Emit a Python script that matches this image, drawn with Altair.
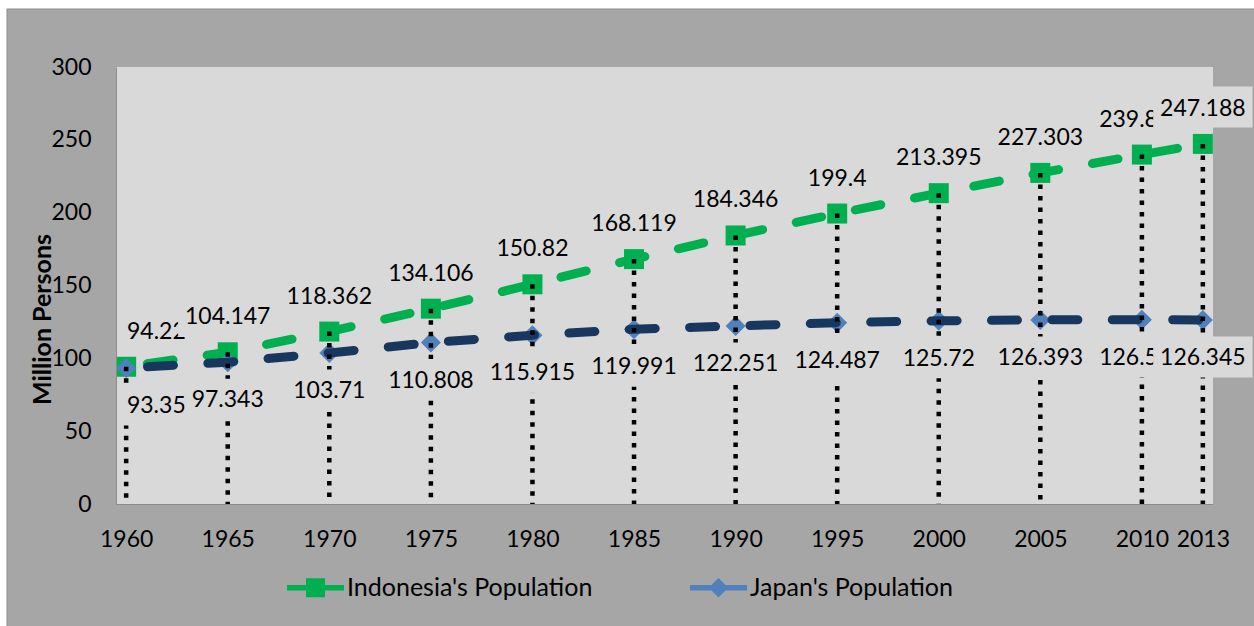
import altair as alt
import pandas as pd

# ---------------- data ----------------
years = [1960, 1965, 1970, 1975, 1980, 1985, 1990, 1995, 2000, 2005, 2010, 2013]
indonesia = [94.22, 104.147, 118.362, 134.106, 150.82, 168.119, 184.346, 199.4,
             213.395, 227.303, 239.871, 247.188]
japan = [93.357, 97.343, 103.71, 110.808, 115.915, 119.991, 122.251, 124.487,
         125.72, 126.393, 126.536, 126.345]
series_names = ["Indonesia's Population", "Japan's Population"]
y_ticks = [0, 50, 100, 150, 200, 250, 300]
x_ticks = years

# ---------------- style ----------------
FONT = "Lato"
FS = 23
GREEN = "#00b050"
NAVY = "#17375e"
BLUE = "#4f81bd"
PLOT_BG = "#d9d9d9"
OUTER_BG = "#a6a6a6"
W, H = 1097, 437
X_DOMAIN = [1959.5, 2013.5]

df = pd.DataFrame({"year": years, "indo": indonesia, "japan": japan})
df["indo_label"] = [f"{v:g}" for v in indonesia]
df["japan_label"] = [f"{v:g}" for v in japan]

x_scale = alt.Scale(domain=X_DOMAIN, nice=False, zero=False)
y_scale = alt.Scale(domain=[0, 300], nice=False, zero=True)

x_axis = alt.Axis(values=x_ticks, format="d", title=None, labelFont=FONT, labelFontSize=FS,
                  labelColor="black", labelPadding=24, ticks=False, tickSize=0, grid=False,
                  domainColor="#8c8c8c", domainWidth=1, zindex=1, labelOverlap=False,
                  labelFlush=False)
y_axis = alt.Axis(values=y_ticks, title="Million Persons", titleFont=FONT, titleFontSize=25,
                  titleFontWeight="bold", titleColor="black", titleX=-74, titleY=252,
                  titleAngle=270, titleAlign="center", titleBaseline="middle",
                  labelFont=FONT, labelFontSize=FS, labelColor="black", labelPadding=25,
                  ticks=False, tickSize=0, grid=False, domainColor="#8c8c8c", domainWidth=1,
                  zindex=1, labelOverlap=False, labelFlush=False)


def X():
    return alt.X("year:Q", scale=x_scale, axis=x_axis)


def Y(field):
    return alt.Y(f"{field}:Q", scale=y_scale, axis=y_axis)


base = alt.Chart(df)
one = alt.Chart(pd.DataFrame({"k": [0]}))

# decorative frame and plot-area fill
frame = one.mark_rect(fill=OUTER_BG, stroke="#8c8c8c", strokeWidth=1).encode(
    x=alt.value(-109), x2=alt.value(1300), y=alt.value(-58), y2=alt.value(700))
plot_bg = one.mark_rect(fill=PLOT_BG).encode(
    x=alt.value(0), x2=alt.value(W), y=alt.value(0), y2=alt.value(H))

DASH = [26, 34.4]
indo_pts = base.mark_point(shape="square", filled=True, size=400, color=GREEN, opacity=1,
                           strokeWidth=0).encode(x=X(), y=Y("indo"))
indo_line = base.mark_line(color=GREEN, strokeWidth=9, strokeDash=DASH, strokeDashOffset=39,
                           strokeCap="round", strokeJoin="round").encode(x=X(), y=Y("indo"))
jap_pts = base.mark_point(shape="diamond", filled=True, size=400, color=BLUE, opacity=1,
                          strokeWidth=0).encode(x=X(), y=Y("japan"))
jap_line = base.mark_line(color=NAVY, strokeWidth=9, strokeDash=DASH, strokeDashOffset=39,
                          strokeCap="round", strokeJoin="round").encode(x=X(), y=Y("japan"))
drops = base.mark_rule(color="black", strokeWidth=4.5, strokeDash=[4.5, 7]).encode(
    x=X(), y=Y("indo"), y2=alt.datum(0))


def text_width(s):
    return sum(13.3 if c.isdigit() else 5.5 for c in s)


def year_px(yr):
    return (yr - X_DOMAIN[0]) / (X_DOMAIN[1] - X_DOMAIN[0]) * W


label_layers = []
for field, lab, off in [("indo", "indo_label", -1), ("japan", "japan_label", 1)]:
    for yr, txt in zip(df["year"], df[lab]):
        w = text_width(txt) + 14
        # keep the label box inside the plot area's left edge (as the source does)
        shift = max(0.0, 4 - (year_px(yr) - w / 2))
        c = 37 * off
        sub = base.transform_filter(f"datum.year == {yr}")
        box = sub.mark_rect(color=PLOT_BG, xOffset=shift - w / 2, x2Offset=shift + w / 2,
                            yOffset=c - 20.5, y2Offset=c + 20.5).encode(
            x=X(), x2=alt.X2("year"), y=Y(field), y2=alt.Y2(field))
        tx = sub.mark_text(font=FONT, fontSize=FS, color="black", baseline="middle",
                           align="center", dx=shift, dy=c + (1 if off > 0 else 2)).encode(
            x=X(), y=Y(field), text=f"{lab}:N")
        label_layers += [box, tx]

# legend
IND_PATH = "M-1,-0.093H1V0.093H-1Z M-0.333,-0.333H0.333V0.333H-0.333Z"
JAP_PATH = "M-1,-0.093H1V0.093H-1Z M-0.34,0L0,-0.34L0.34,0L0,0.34Z"
leg_df = pd.DataFrame({"series": series_names, "year": [1960, 1960], "v": [indonesia[0], japan[0]]})
legend_layer = alt.Chart(leg_df).transform_filter("false").mark_point(
    filled=True, size=3249, opacity=1, strokeWidth=0).encode(
    x=X(), y=Y("v"),
    color=alt.Color("series:N", scale=alt.Scale(domain=series_names, range=[GREEN, BLUE]),
                    legend=alt.Legend(orient="none", legendX=171, legendY=492,
                                      direction="horizontal", title=None,
                                      symbolSize=3249, symbolStrokeWidth=0, symbolOpacity=1,
                                      labelFont=FONT, labelFontSize=25, labelColor="black",
                                      labelOffset=3, columnPadding=97, padding=0,
                                      labelLimit=400)),
    shape=alt.Shape("series:N", scale=alt.Scale(domain=series_names, range=[IND_PATH, JAP_PATH])),
)

chart = alt.layer(frame, plot_bg, indo_pts, indo_line, jap_pts, jap_line, drops,
                  *label_layers, legend_layer).properties(
    width=W, height=H,
    autosize=alt.AutoSizeParams(type="none"),
    padding={"left": 116, "top": 67, "right": 41, "bottom": 122},
    background="white",
).configure_view(stroke=None)

chart.save("out.html", embed_options={"renderer": "svg", "actions": False})
